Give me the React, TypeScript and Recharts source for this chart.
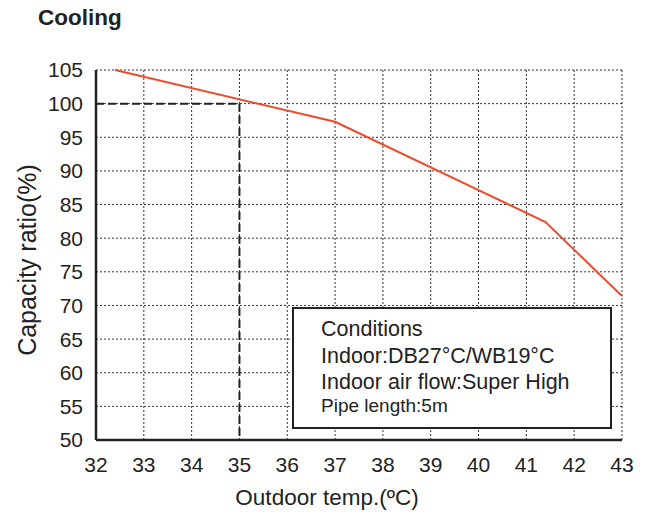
import { CartesianGrid, Label, Line, LineChart, ReferenceLine, XAxis, YAxis } from "recharts"

const temps = [32.4, 37, 41.4, 43]
const capacity = [105, 97.3, 82.4, 71.4]

const xTicks = [32, 33, 34, 35, 36, 37, 38, 39, 40, 41, 42, 43]
const yTicks = [50, 55, 60, 65, 70, 75, 80, 85, 90, 95, 100, 105]

const ratedTemp = 35
const ratedCapacity = 100

const conditions = [
    "Conditions",
    "Indoor:DB27°C/WB19°C",
    "Indoor air flow:Super High",
]
const pipeNote = "Pipe length:5m"

const data = temps.map((t, i) => ({ t, v: capacity[i] }))

const FONT = "'Liberation Sans', Arial, Helvetica, sans-serif"
const INK = "#222"
const LINE_RED = "#EE4B2B"

export default function App() {
    const tickStyle = { fontSize: 21, fill: INK, fontFamily: FONT }

    return (
        <div style={{ position: "absolute", left: 0, top: 0, width: 647, height: 514, background: "#fff", fontFamily: FONT }}>
            <div style={{ position: "absolute", left: 38, top: 7, fontSize: 22.5, lineHeight: "22px", fontWeight: "bold", color: INK }}>
                Cooling
            </div>

            <LineChart width={647} height={514} data={data} margin={{ top: 70, right: 25, bottom: 0, left: 0 }}>
                <CartesianGrid stroke="#333" strokeWidth={1} strokeDasharray="2 2" />
                <XAxis
                    dataKey="t"
                    type="number"
                    domain={[32, 43]}
                    ticks={xTicks}
                    interval={0}
                    height={74}
                    tickLine={false}
                    tickMargin={11}
                    axisLine={{ stroke: INK, strokeWidth: 2.5 }}
                    tick={tickStyle}
                >
                    <Label
                        content={() => (
                            <text x={327} y={505} textAnchor="middle" fontSize={22.5} fill={INK} fontFamily={FONT}>
                                Outdoor temp.(ºC)
                            </text>
                        )}
                    />
                </XAxis>
                <XAxis
                    xAxisId="top"
                    orientation="top"
                    type="number"
                    domain={[32, 43]}
                    height={0}
                    tick={false}
                    tickLine={false}
                    axisLine={{ stroke: INK, strokeWidth: 2.5 }}
                />
                <YAxis
                    type="number"
                    domain={[50, 105]}
                    ticks={yTicks}
                    interval={0}
                    width={96}
                    tickLine={false}
                    tickMargin={7}
                    axisLine={{ stroke: INK, strokeWidth: 2.5 }}
                    tick={tickStyle}
                >
                    <Label
                        content={() => (
                            <text
                                x={36}
                                y={260}
                                transform="rotate(-90 36 260)"
                                textAnchor="middle"
                                fontSize={25}
                                fill={INK}
                                fontFamily={FONT}
                            >
                                Capacity ratio(%)
                            </text>
                        )}
                    />
                </YAxis>
                <YAxis
                    yAxisId="right"
                    orientation="right"
                    type="number"
                    domain={[50, 105]}
                    width={0}
                    tick={false}
                    tickLine={false}
                    axisLine={{ stroke: INK, strokeWidth: 2.5 }}
                />
                <ReferenceLine
                    segment={[{ x: 32, y: ratedCapacity }, { x: ratedTemp, y: ratedCapacity }]}
                    stroke={INK}
                    strokeWidth={2}
                    strokeDasharray="8 4"
                />
                <ReferenceLine
                    segment={[{ x: ratedTemp, y: ratedCapacity }, { x: ratedTemp, y: 50 }]}
                    stroke={INK}
                    strokeWidth={2}
                    strokeDasharray="8 4"
                />
                <Line
                    dataKey="v"
                    type="linear"
                    stroke={LINE_RED}
                    strokeWidth={2}
                    dot={false}
                    activeDot={false}
                    isAnimationActive={false}
                />
            </LineChart>

            <div
                style={{
                    position: "absolute",
                    left: 292,
                    top: 307,
                    width: 320,
                    height: 122,
                    boxSizing: "border-box",
                    border: `2.5px solid ${INK}`,
                    background: "#fff",
                    color: INK,
                }}
            >
                {conditions.map((line, i) => (
                    <div
                        key={line}
                        style={{ position: "absolute", left: 27, top: [10, 37, 63][i], fontSize: 21.5, lineHeight: "21px", whiteSpace: "nowrap" }}
                    >
                        {line}
                    </div>
                ))}
                <div style={{ position: "absolute", left: 27, top: 87, fontSize: 19, lineHeight: "19px", whiteSpace: "nowrap" }}>
                    {pipeNote}
                </div>
            </div>
        </div>
    )
}
